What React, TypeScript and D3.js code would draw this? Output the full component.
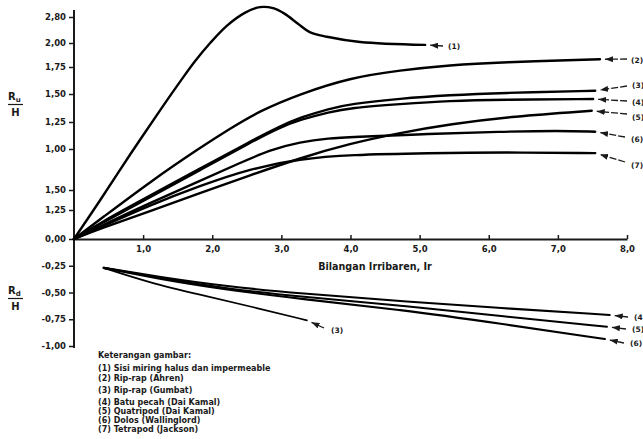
import * as d3 from "d3";
import React, { useEffect, useRef } from "react";

// x axis (Iribarren number)
const xTicks = [1, 2, 3, 4, 5, 6, 7, 8];
const xTickLabels = ["1,0", "2,0", "3,0", "4,0", "5,0", "6,0", "7,0", "8,0"];

// run-up side: tick values and the labels as printed in the figure
const yUpTicks = [0, 0.25, 0.5, 1.0, 1.25, 1.5, 1.75, 2.0, 2.5];
const yUpLabels = ["0,00", "1,25", "1,50", "1,00", "1,25", "1,50", "1,75", "2,00", "2,80"];

// run-down side
const yDownTicks = [-0.25, -0.5, -0.75, -1.0];
const yDownLabels = ["-0,25", "-0,50", "-0,75", "-1,00"];

// run-up curves Ru/H
const ru1 = [[0, 0], [0.38, 0.375], [0.81, 0.93], [1.24, 1.35], [1.53, 1.61], [1.75, 1.81], [1.97, 2.0], [2.21, 2.33], [2.47, 2.58], [2.69, 2.69], [2.88, 2.67], [3.05, 2.56], [3.24, 2.37], [3.41, 2.21], [3.66, 2.12], [4.14, 2.02], [5.08, 1.98]];
const ru2 = [[0, 0], [0.38, 0.17], [1.1, 0.6], [1.82, 1.01], [2.26, 1.19], [2.69, 1.35], [3.27, 1.5], [3.99, 1.65], [4.72, 1.72], [5.44, 1.77], [6.16, 1.8], [7.61, 1.83]];
const ru3 = [[0, 0], [0.38, 0.14], [1.1, 0.43], [1.82, 0.76], [2.55, 1.07], [2.98, 1.21], [3.27, 1.29], [3.7, 1.37], [3.99, 1.41], [4.72, 1.46], [5.44, 1.49], [6.16, 1.51], [7.54, 1.53]];
const ru4 = [[0, 0], [0.38, 0.13], [1.1, 0.41], [1.82, 0.74], [2.55, 1.06], [2.98, 1.2], [3.27, 1.27], [3.7, 1.34], [3.99, 1.375], [4.72, 1.41], [5.44, 1.44], [6.16, 1.45], [7.51, 1.455]];
const ru5 = [[0, 0], [0.38, 0.09], [1.1, 0.24], [1.82, 0.46], [2.55, 0.68], [3.27, 0.89], [3.99, 1.05], [4.72, 1.15], [5.44, 1.23], [6.35, 1.3], [7.49, 1.35]];
const ru6 = [[0, 0], [0.38, 0.11], [1.1, 0.34], [1.82, 0.61], [2.4, 0.83], [2.84, 0.99], [3.27, 1.065], [3.7, 1.1], [3.99, 1.11], [5.15, 1.14], [6.16, 1.16], [7.03, 1.17], [7.54, 1.16]];
const ru7 = [[0, 0], [0.38, 0.1], [1.1, 0.31], [1.82, 0.55], [2.55, 0.76], [3.27, 0.88], [3.99, 0.93], [5.15, 0.95], [6.16, 0.96], [7.54, 0.95]];

// run-down curves Rd/H
const rd3 = [[0.43, -0.27], [1.1, -0.41], [1.82, -0.52], [2.55, -0.63], [3.37, -0.76]];
const rd4 = [[0.43, -0.27], [1.24, -0.355], [2.16, -0.44], [3.27, -0.51], [4.72, -0.58], [6.16, -0.645], [7.75, -0.71]];
const rd5 = [[0.43, -0.27], [1.24, -0.365], [2.16, -0.46], [3.27, -0.54], [4.72, -0.62], [6.16, -0.72], [7.71, -0.82]];
const rd6 = [[0.43, -0.27], [1.24, -0.375], [2.16, -0.47], [3.27, -0.56], [4.72, -0.66], [6.16, -0.79], [7.68, -0.935]];

const legendTitle = "Keterangan gambar:";
const legendItems = [
  "(1) Sisi miring halus dan impermeable",
  "(2) Rip-rap (Ahren)",
  "(3) Rip-rap (Gumbat)",
  "(4) Batu pecah (Dai Kamal)",
  "(5) Quatripod (Dai Kamal)",
  "(6) Dolos (Wallinglord)",
  "(7) Tetrapod (Jackson)",
];

const FONT = "'DejaVu Sans', Verdana, sans-serif";
const INK = "#1a1a1a";

export default function App() {
  const ref = useRef<SVGSVGElement | null>(null);

  useEffect(() => {
    document.body.style.margin = "0";
    const svg = d3.select(ref.current);
    svg.selectAll("*").remove();

    const x = d3.scaleLinear().domain([0, 8]).range([74, 627]);
    // the printed run-up axis is not evenly spaced, so map tick by tick
    const yUp = d3.scaleLinear().domain(yUpTicks).range([239, 210, 190, 149, 122, 94, 67, 43, 17]);
    const yDown = d3.scaleLinear().domain([0, -1]).range([239, 346]);

    svg
      .append("defs")
      .append("marker")
      .attr("id", "head")
      .attr("viewBox", "0 0 8 6")
      .attr("refX", 8)
      .attr("refY", 3)
      .attr("markerWidth", 8)
      .attr("markerHeight", 6)
      .attr("markerUnits", "userSpaceOnUse")
      .attr("orient", "auto")
      .append("path")
      .attr("d", "M0,0 L8,3 L0,6 Z")
      .attr("fill", INK);

    // y axis line
    svg
      .append("line")
      .attr("x1", 74)
      .attr("x2", 74)
      .attr("y1", 10)
      .attr("y2", 348)
      .attr("stroke", INK)
      .attr("stroke-width", 2);

    const styleAxis = (g: any) => {
      g.select(".domain").remove();
      g.selectAll(".tick line").attr("stroke", INK).attr("stroke-width", 1.5);
      g.selectAll(".tick text")
        .attr("fill", INK)
        .attr("font-family", FONT)
        .attr("font-weight", "bold")
        .attr("font-size", 8.5);
    };

    svg
      .append("g")
      .attr("transform", "translate(74,0)")
      .call(
        d3
          .axisLeft(yUp)
          .tickValues(yUpTicks)
          .tickFormat((_d: any, i: number) => yUpLabels[i])
          .tickSize(5)
          .tickPadding(3)
      )
      .call(styleAxis);

    svg
      .append("g")
      .attr("transform", "translate(74,0)")
      .call(
        d3
          .axisLeft(yDown)
          .tickValues(yDownTicks)
          .tickFormat((_d: any, i: number) => yDownLabels[i])
          .tickSize(5)
          .tickPadding(3)
      )
      .call(styleAxis);

    // x axis, ticks pointing up
    const gx = svg
      .append("g")
      .attr("transform", "translate(0,239)")
      .call(
        d3
          .axisBottom(x)
          .tickValues(xTicks)
          .tickFormat((_d: any, i: number) => xTickLabels[i])
          .tickSize(-4)
          .tickSizeOuter(0)
          .tickPadding(7)
      );
    gx.select(".domain").attr("stroke", INK).attr("stroke-width", 1.8);
    gx.selectAll(".tick line").attr("stroke", INK).attr("stroke-width", 1.5);
    gx.selectAll(".tick text")
      .attr("fill", INK)
      .attr("font-family", FONT)
      .attr("font-weight", "bold")
      .attr("font-size", 8.5);

    svg
      .append("text")
      .attr("x", 375)
      .attr("y", 270)
      .attr("text-anchor", "middle")
      .attr("font-family", FONT)
      .attr("font-weight", "bold")
      .attr("font-size", 9.6)
      .attr("fill", INK)
      .text("Bilangan Irribaren, Ir");

    // Ru/H and Rd/H fractions
    const fraction = (top: number, sub: string) => {
      const t = svg
        .append("text")
        .attr("x", 8)
        .attr("y", top)
        .attr("font-family", FONT)
        .attr("font-weight", "bold")
        .attr("font-size", 10)
        .attr("fill", INK);
      t.append("tspan").text("R");
      t.append("tspan").attr("font-size", 7).attr("dy", 2).text(sub);
      svg
        .append("line")
        .attr("x1", 8)
        .attr("x2", 23)
        .attr("y1", top + 4.5)
        .attr("y2", top + 4.5)
        .attr("stroke", INK)
        .attr("stroke-width", 1.2);
      svg
        .append("text")
        .attr("x", 15.5)
        .attr("y", top + 16)
        .attr("text-anchor", "middle")
        .attr("font-family", FONT)
        .attr("font-weight", "bold")
        .attr("font-size", 10)
        .attr("fill", INK)
        .text("H");
    };
    fraction(100, "u");
    fraction(294, "d");

    // curve (1) keeps its sharp peak; the others are smoothed
    const lineUpPeak = d3
      .line()
      .x((d: any) => x(d[0]))
      .y((d: any) => yUp(d[1]))
      .curve(d3.curveCatmullRom.alpha(0.5));
    const lineUp = d3
      .line()
      .x((d: any) => x(d[0]))
      .y((d: any) => yUp(d[1]))
      .curve(d3.curveBasis);
    const lineDown = d3
      .line()
      .x((d: any) => x(d[0]))
      .y((d: any) => yDown(d[1]))
      .curve(d3.curveBasis);

    svg
      .append("g")
      .selectAll("path")
      .data([ru1, ru2, ru3, ru4, ru5, ru6, ru7])
      .enter()
      .append("path")
      .attr("d", (d: any, i: number) => (i === 0 ? lineUpPeak(d) : lineUp(d)))
      .attr("fill", "none")
      .attr("stroke", "#000")
      .attr("stroke-width", 2.4)
      .attr("stroke-linecap", "round");

    svg
      .append("g")
      .selectAll("path")
      .data([rd3, rd4, rd5, rd6])
      .enter()
      .append("path")
      .attr("d", (d: any) => lineDown(d))
      .attr("fill", "none")
      .attr("stroke", "#000")
      .attr("stroke-width", (_d: any, i: number) => (i === 0 ? 1.7 : 2.1))
      .attr("stroke-linecap", "round");

    // curve callouts: label position and the arrow pointing back at the curve end
    const callouts = [
      { label: "(1)", end: ru1[ru1.length - 1], scale: yUp, from: [443, 46], tx: 448, ty: 46 },
      { label: "(2)", end: ru2[ru2.length - 1], scale: yUp, from: [627, 59], tx: 631, ty: 60 },
      { label: "(3)", end: ru3[ru3.length - 1], scale: yUp, from: [627, 86], tx: 632, ty: 85 },
      { label: "(4)", end: ru4[ru4.length - 1], scale: yUp, from: [627, 101], tx: 632, ty: 102 },
      { label: "(5)", end: ru5[ru5.length - 1], scale: yUp, from: [627, 114], tx: 632, ty: 117 },
      { label: "(6)", end: ru6[ru6.length - 1], scale: yUp, from: [625, 137], tx: 631, ty: 139 },
      { label: "(7)", end: ru7[ru7.length - 1], scale: yUp, from: [625, 162], tx: 631, ty: 165 },
      { label: "(3)", end: rd3[rd3.length - 1], scale: yDown, from: [324, 328], tx: 331, ty: 330 },
      { label: "(4)", end: rd4[rd4.length - 1], scale: yDown, from: [628, 317], tx: 634, ty: 317 },
      { label: "(5)", end: rd5[rd5.length - 1], scale: yDown, from: [626, 329], tx: 632, ty: 329 },
      { label: "(6)", end: rd6[rd6.length - 1], scale: yDown, from: [624, 343], tx: 630, ty: 343 },
    ];

    callouts.forEach((c) => {
      const ex = x(c.end[0]);
      const ey = c.scale(c.end[1]);
      const dx = c.from[0] - ex;
      const dy = c.from[1] - ey;
      const len = Math.hypot(dx, dy);
      const gap = 5;
      svg
        .append("line")
        .attr("x1", c.from[0])
        .attr("y1", c.from[1])
        .attr("x2", ex + (dx / len) * gap)
        .attr("y2", ey + (dy / len) * gap)
        .attr("stroke", INK)
        .attr("stroke-width", 1.3)
        .attr("stroke-dasharray", len > 20 ? "7,2" : null)
        .attr("marker-end", "url(#head)");
      svg
        .append("text")
        .attr("x", c.tx)
        .attr("y", c.ty)
        .attr("dy", "0.35em")
        .attr("font-family", FONT)
        .attr("font-weight", "bold")
        .attr("font-size", 7.5)
        .attr("fill", INK)
        .text(c.label);
    });

    // legend
    const legend = svg
      .append("g")
      .attr("font-family", FONT)
      .attr("font-weight", "bold")
      .attr("font-size", 8)
      .attr("fill", INK);
    legend.append("text").attr("x", 98).attr("y", 358).text(legendTitle);
    const legendY = [371, 381, 393, 405, 414, 423, 432];
    legend
      .selectAll("text.item")
      .data(legendItems)
      .enter()
      .append("text")
      .attr("class", "item")
      .attr("x", 98)
      .attr("y", (_d: string, i: number) => legendY[i])
      .text((d: string) => d);
  }, []);

  return (
    <svg
      ref={ref}
      width={643}
      height={439}
      style={{ display: "block", background: "#fff" }}
    />
  );
}
